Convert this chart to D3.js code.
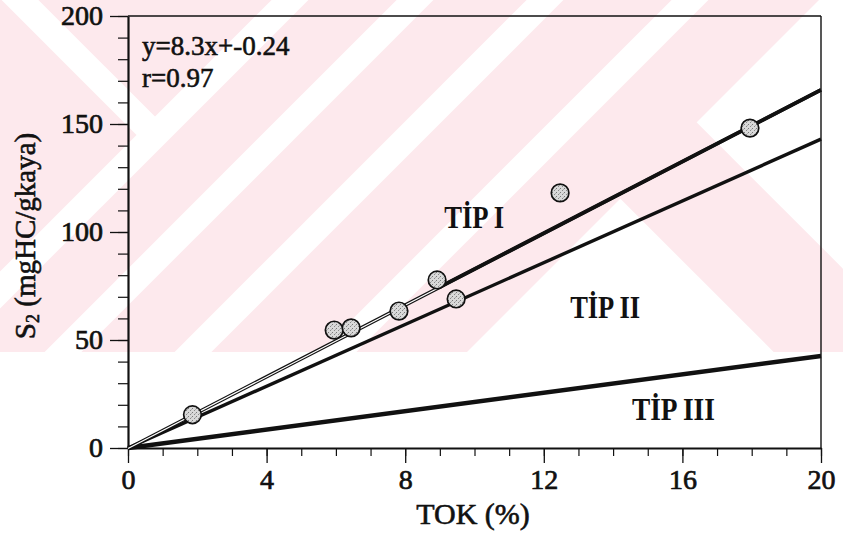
<!DOCTYPE html>
<html>
<head>
<meta charset="utf-8">
<script src="https://cdn.jsdelivr.net/npm/d3@7"></script>
<style>
  html, body { margin: 0; padding: 0; background: #fff; }
  svg { display: block; }
  text { font-family: "Liberation Serif", "Times New Roman", serif; fill: #111; }
</style>
</head>
<body>
<svg id="chart" width="843" height="535"></svg>
<script>
// Samples: total organic carbon (TOK, %) and pyrolysis S2 (mgHC/g rock)
const tok = [1.86, 5.95, 6.44, 7.82, 8.92, 9.47, 12.47, 17.95];
const s2  = [15.4, 54.6, 55.6, 63.4, 77.8, 69.0, 118.1, 148.1];

// Least-squares fit through the samples
const regSlope = 8.3;
const regIntercept = -0.24;
const regR = 0.97;

// Kerogen type boundary lines from the origin, S2 reached at TOK = 20
const typeIEnd = 165.8;
const typeIStart = 9;      // the Type I line is drawn over the fit from this TOK on
const typeIIEnd = 143;
const typeIIIEnd = 42.6;

// Field labels and their anchor points (TOK, S2)
const typeNames = ["TİP I", "TİP II", "TİP III"];
const typeLabelX = [9.99, 13.77, 15.74];
const typeLabelY = [101.9, 60.2, 13.0];

// Axis ticks
const xMajor = [0, 4, 8, 12, 16, 20];
const xMinor = d3.range(0, 21, 1);
const yMajor = [0, 50, 100, 150, 200];
const yMinor = d3.range(0, 201, 10);

const svg = d3.select("#chart");
const defs = svg.append("defs");

// Stippled grey fill for the sample symbols
const stip = defs.append("pattern").attr("id", "stipple")
  .attr("patternUnits", "userSpaceOnUse").attr("width", 4).attr("height", 4);
stip.append("rect").attr("width", 4).attr("height", 4).attr("fill", "#d9d9d9");
stip.append("rect").attr("x", 0).attr("y", 0).attr("width", 1).attr("height", 1).attr("fill", "#7a7a7a");
stip.append("rect").attr("x", 2).attr("y", 2).attr("width", 1).attr("height", 1).attr("fill", "#8a8a8a");
stip.append("rect").attr("x", 3).attr("y", 1).attr("width", 1).attr("height", 1).attr("fill", "#b0b0b0");

// Background print pattern (pink field with white diagonal bands)
const bg = svg.append("g");
const pink = "#fde9ed";
bg.append("rect").attr("x", 0).attr("y", 0).attr("width", 843).attr("height", 352).attr("fill", pink);
defs.append("clipPath").attr("id", "bgclip")
  .append("rect").attr("x", 0).attr("y", 0).attr("width", 843).attr("height", 352);
const bgc = bg.append("g").attr("clip-path", "url(#bgclip)");
bgc.append("polygon").attr("points", "819,0 843,0 843,352 467,352").attr("fill", "#fff");
bgc.append("line").attr("x1", 560).attr("y1", 62).attr("x2", 900).attr("y2", 402)
  .attr("stroke", pink).attr("stroke-width", 108);
bgc.append("line").attr("x1", -20).attr("y1", -40).attr("x2", 160).attr("y2", 140)
  .attr("stroke", "#fff").attr("stroke-width", 26);
[290, 415, 545, 690].forEach(c => {
  bgc.append("line").attr("x1", c + 35).attr("y1", -35).attr("x2", c - 385).attr("y2", 385)
    .attr("stroke", "#fff").attr("stroke-width", 26);
});

// Scales
const x = d3.scaleLinear().domain([0, 20]).range([128, 821]);
const y = d3.scaleLinear().domain([0, 200]).range([448, 16]);

const font = 28;

// Frame: top and right edges
svg.append("line").attr("x1", x(0)).attr("x2", x(20)).attr("y1", y(200)).attr("y2", y(200))
  .attr("stroke", "#111").attr("stroke-width", 1.4);
svg.append("line").attr("x1", x(20)).attr("x2", x(20)).attr("y1", y(200)).attr("y2", y(0))
  .attr("stroke", "#111").attr("stroke-width", 1.4);

// Minor ticks
svg.append("g").attr("transform", `translate(${x(0)},0)`)
  .call(d3.axisLeft(y).tickValues(yMinor).tickSize(10).tickSizeOuter(0).tickFormat(""))
  .call(g => g.select(".domain").remove())
  .call(g => g.selectAll("line").attr("stroke", "#111").attr("stroke-width", 1.2));
svg.append("g").attr("transform", `translate(0,${y(0)})`)
  .call(d3.axisBottom(x).tickValues(xMinor).tickSize(8).tickSizeOuter(0).tickFormat(""))
  .call(g => g.select(".domain").remove())
  .call(g => g.selectAll("line").attr("stroke", "#111").attr("stroke-width", 1.2));

// Major axes
const yAxis = svg.append("g").attr("transform", `translate(${x(0)},0)`)
  .call(d3.axisLeft(y).tickValues(yMajor).tickSize(18).tickSizeOuter(0).tickPadding(7));
const xAxis = svg.append("g").attr("transform", `translate(0,${y(0)})`)
  .call(d3.axisBottom(x).tickValues(xMajor).tickSize(15).tickSizeOuter(0).tickPadding(6));
[yAxis, xAxis].forEach(ax => {
  ax.select(".domain").attr("stroke", "#111").attr("stroke-width", 2.2);
  ax.selectAll(".tick line").attr("stroke", "#111").attr("stroke-width", 1.3);
  ax.selectAll(".tick text")
    .style("font-family", '"Liberation Serif", serif').style("font-size", font + "px")
    .attr("fill", "#111").attr("stroke", "#111").attr("stroke-width", 0.7);
});

// Axis titles
svg.append("text").attr("x", 473).attr("y", 524).attr("text-anchor", "middle")
  .style("font-size", "30px").attr("stroke", "#111").attr("stroke-width", 0.6)
  .text("TOK (%)");
const yt = svg.append("text").attr("transform", "translate(35,236) rotate(-90)")
  .attr("text-anchor", "middle").style("font-size", "29px")
  .attr("stroke", "#111").attr("stroke-width", 0.6);
yt.append("tspan").text("S");
yt.append("tspan").style("font-size", "18px").attr("dy", 4).text("2");
yt.append("tspan").attr("dy", -4).text(" (mgHC/gkaya)");

// Boundary and fit lines
const line = d3.line().x(d => x(d[0])).y(d => y(d[1]));
const chartLines = svg.append("g").attr("fill", "none");

chartLines.append("path").datum([[0, 0], [20, typeIIIEnd]]).attr("d", line)
  .attr("stroke", "#111").attr("stroke-width", 4.5);
chartLines.append("path").datum([[0, 0], [20, typeIIEnd]]).attr("d", line)
  .attr("stroke", "#111").attr("stroke-width", 3.4);

const fitPts = [[0, regIntercept], [20, regSlope * 20 + regIntercept]];
chartLines.append("path").datum(fitPts).attr("d", line)
  .attr("stroke", "#111").attr("stroke-width", 3.6);
chartLines.append("path").datum(fitPts).attr("d", line)
  .attr("stroke", "#fff").attr("stroke-width", 1.2);
chartLines.append("path")
  .datum([[typeIStart, typeIEnd * typeIStart / 20], [20, typeIEnd]]).attr("d", line)
  .attr("stroke", "#111").attr("stroke-width", 3.6);

// Samples
svg.append("g").selectAll("circle").data(tok.map((t, i) => [t, s2[i]])).join("circle")
  .attr("cx", d => x(d[0])).attr("cy", d => y(d[1])).attr("r", 8.8)
  .attr("fill", "url(#stipple)").attr("stroke", "#111").attr("stroke-width", 1.7);

// Fit equation and correlation coefficient
const eqStyle = t => t.style("font-size", "27px").attr("stroke", "#111").attr("stroke-width", 0.6);
svg.append("text").attr("x", 142).attr("y", 55).call(eqStyle)
  .text(`y=${regSlope}x+${regIntercept}`);
svg.append("text").attr("x", 142).attr("y", 87).call(eqStyle)
  .text(`r=${regR}`);

// Kerogen type field labels
const labelWidths = [60, 70, 83];
svg.append("g").selectAll("text").data(typeNames).join("text")
  .attr("x", (d, i) => x(typeLabelX[i])).attr("y", (d, i) => y(typeLabelY[i]))
  .attr("text-anchor", "middle").style("font-size", "31px").style("font-weight", "bold")
  .attr("textLength", (d, i) => labelWidths[i]).attr("lengthAdjust", "spacingAndGlyphs")
  .text(d => d);
</script>
</body>
</html>
